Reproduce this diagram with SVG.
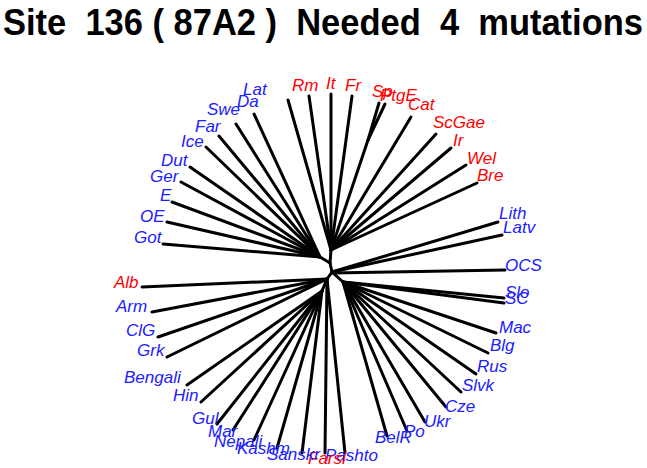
<svg xmlns="http://www.w3.org/2000/svg" width="647" height="468" viewBox="0 0 647 468">
<style>
.t{font-family:"Liberation Sans",Arial,sans-serif;font-weight:bold;font-size:34.5px;fill:#000;white-space:pre}
.l{font-family:"Liberation Sans",Arial,sans-serif;font-style:italic;font-size:17px}
.b{fill:#2020ff}
.r{fill:#ff0000}
#edges line{stroke:#000;stroke-width:3;stroke-linecap:round}
</style>
<rect width="647" height="468" fill="#fff"/>
<text class="t" x="3" y="32.4" transform="scale(1,1.08)" textLength="640" lengthAdjust="spacingAndGlyphs">Site  136 ( 87A2 )  Needed  4  mutations</text>
<g id="edges">
<line x1="320" y1="257" x2="330" y2="263"/>
<line x1="331" y1="250" x2="330" y2="263"/>
<line x1="330" y1="263" x2="332" y2="272"/>
<line x1="332" y1="272" x2="343" y2="282"/>
<line x1="332" y1="272" x2="327" y2="279"/>
<line x1="327" y1="279" x2="322" y2="291"/>
<line x1="331" y1="250" x2="368" y2="140"/>
<line x1="368" y1="140" x2="379" y2="103"/>
<line x1="368" y1="140" x2="385" y2="104"/>
<line x1="331" y1="250" x2="288" y2="100"/>
<line x1="331" y1="250" x2="309" y2="96"/>
<line x1="331" y1="250" x2="331" y2="94"/>
<line x1="331" y1="250" x2="352" y2="96"/>
<line x1="331" y1="250" x2="411" y2="117"/>
<line x1="331" y1="250" x2="436" y2="134"/>
<line x1="331" y1="250" x2="451" y2="148"/>
<line x1="331" y1="250" x2="466" y2="165"/>
<line x1="331" y1="250" x2="477" y2="183"/>
<line x1="332" y1="272" x2="498" y2="222"/>
<line x1="332" y1="272" x2="502" y2="235"/>
<line x1="332" y1="273" x2="505" y2="270"/>
<line x1="343" y1="282" x2="504" y2="298"/>
<line x1="343" y1="282" x2="504" y2="303"/>
<line x1="343" y1="282" x2="496" y2="333"/>
<line x1="343" y1="282" x2="488" y2="353"/>
<line x1="343" y1="282" x2="476" y2="374"/>
<line x1="343" y1="282" x2="461" y2="392"/>
<line x1="343" y1="282" x2="446" y2="407"/>
<line x1="343" y1="282" x2="425" y2="422"/>
<line x1="343" y1="282" x2="407" y2="431"/>
<line x1="343" y1="282" x2="387" y2="436"/>
<line x1="327" y1="279" x2="345" y2="453"/>
<line x1="327" y1="279" x2="325" y2="453"/>
<line x1="322" y1="291" x2="302" y2="453"/>
<line x1="322" y1="291" x2="277" y2="448"/>
<line x1="322" y1="291" x2="254" y2="440"/>
<line x1="322" y1="291" x2="233" y2="430"/>
<line x1="322" y1="291" x2="217" y2="424"/>
<line x1="322" y1="291" x2="201" y2="402"/>
<line x1="322" y1="291" x2="187" y2="385"/>
<line x1="327" y1="279" x2="167" y2="357"/>
<line x1="327" y1="279" x2="158" y2="337"/>
<line x1="327" y1="279" x2="152" y2="312"/>
<line x1="327" y1="279" x2="142" y2="287"/>
<line x1="320" y1="257" x2="163" y2="244"/>
<line x1="320" y1="257" x2="167" y2="222"/>
<line x1="320" y1="257" x2="172" y2="202"/>
<line x1="320" y1="257" x2="181" y2="182"/>
<line x1="320" y1="257" x2="190" y2="167"/>
<line x1="320" y1="257" x2="206" y2="147"/>
<line x1="320" y1="257" x2="219" y2="136"/>
<line x1="320" y1="257" x2="236" y2="124"/>
<line x1="320" y1="257" x2="254" y2="114"/>
</g>
<g id="n-Lat"><text class="l b" x="243" y="95">Lat</text></g>
<g id="n-Rm"><text class="l r" x="292" y="91">Rm</text></g>
<g id="n-It"><text class="l r" x="326" y="89">It</text></g>
<g id="n-Fr"><text class="l r" x="345" y="91">Fr</text></g>
<g id="n-Sp"><text class="l r" x="372" y="97">Sp</text></g>
<g id="n-PtgE"><text class="l r" x="380" y="101">PtgE</text></g>
<g id="n-Cat"><text class="l r" x="408" y="110">Cat</text></g>
<g id="n-ScGae"><text class="l r" x="433" y="128">ScGae</text></g>
<g id="n-Ir"><text class="l r" x="453" y="146">Ir</text></g>
<g id="n-Wel"><text class="l r" x="467" y="164">Wel</text></g>
<g id="n-Bre"><text class="l r" x="477" y="181">Bre</text></g>
<g id="n-Lith"><text class="l b" x="499" y="219">Lith</text></g>
<g id="n-Latv"><text class="l b" x="503" y="233">Latv</text></g>
<g id="n-OCS"><text class="l b" x="505" y="271">OCS</text></g>
<g id="n-Slo"><text class="l b" x="505" y="298">Slo</text></g>
<g id="n-SC"><text class="l b" x="505" y="304">SC</text></g>
<g id="n-Mac"><text class="l b" x="499" y="333">Mac</text></g>
<g id="n-Blg"><text class="l b" x="490" y="351">Blg</text></g>
<g id="n-Rus"><text class="l b" x="477" y="372">Rus</text></g>
<g id="n-Slvk"><text class="l b" x="462" y="391">Slvk</text></g>
<g id="n-Cze"><text class="l b" x="445" y="412">Cze</text></g>
<g id="n-Ukr"><text class="l b" x="424" y="427">Ukr</text></g>
<g id="n-Po"><text class="l b" x="404" y="437">Po</text></g>
<g id="n-BelR"><text class="l b" x="375" y="443">BelR</text></g>
<g id="n-Pashto"><text class="l b" x="325" y="461">Pashto</text></g>
<g id="n-Farsi"><text class="l r" x="308" y="464">Farsi</text></g>
<g id="n-Sanskr"><text class="l b" x="267" y="460">Sanskr</text></g>
<g id="n-Kashm"><text class="l b" x="237" y="454">Kashm</text></g>
<g id="n-Nepali"><text class="l b" x="214" y="447">Nepali</text></g>
<g id="n-Mar"><text class="l b" x="208" y="437">Mar</text></g>
<g id="n-Gul"><text class="l b" x="192" y="424">Gul</text></g>
<g id="n-Hin"><text class="l b" x="173" y="401">Hin</text></g>
<g id="n-Bengali"><text class="l b" x="124" y="383">Bengali</text></g>
<g id="n-Grk"><text class="l b" x="137" y="356">Grk</text></g>
<g id="n-ClG"><text class="l b" x="126" y="336">ClG</text></g>
<g id="n-Arm"><text class="l b" x="116" y="312">Arm</text></g>
<g id="n-Alb"><text class="l r" x="114" y="288">Alb</text></g>
<g id="n-Got"><text class="l b" x="134" y="243">Got</text></g>
<g id="n-OE"><text class="l b" x="140" y="222">OE</text></g>
<g id="n-E"><text class="l b" x="160" y="201">E</text></g>
<g id="n-Ger"><text class="l b" x="150" y="182">Ger</text></g>
<g id="n-Dut"><text class="l b" x="161" y="166">Dut</text></g>
<g id="n-Ice"><text class="l b" x="181" y="147">Ice</text></g>
<g id="n-Far"><text class="l b" x="195" y="132">Far</text></g>
<g id="n-Swe"><text class="l b" x="207" y="115">Swe</text></g>
<g id="n-Da"><text class="l b" x="237" y="107">Da</text></g>
</svg>
